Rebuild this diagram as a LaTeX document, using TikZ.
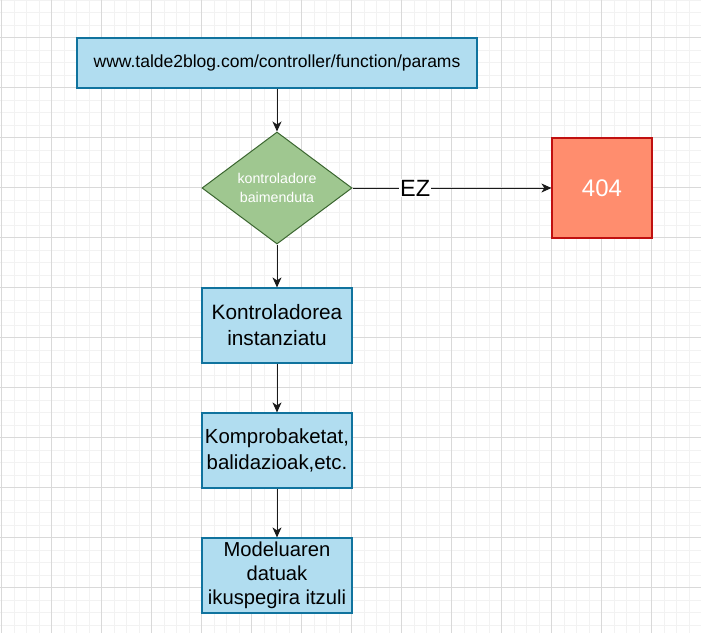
\documentclass[tikz,border=0pt]{standalone}
\usepackage{fontspec}
\setmainfont{Liberation Sans}
\usetikzlibrary{arrows.meta,shapes.geometric}
\definecolor{bluefill}{HTML}{B1DDF0}
\definecolor{bluedraw}{HTML}{10739E}
\definecolor{greenfill}{HTML}{9FC790}
\definecolor{greendraw}{HTML}{3B6630}
\definecolor{redfill}{HTML}{FF8D6E}
\definecolor{reddraw}{HTML}{C01010}
\definecolor{gridmajor}{HTML}{D9D9D9}
\definecolor{gridminor}{HTML}{F2F2F2}
\definecolor{linecol}{HTML}{1A1A1A}
\tikzset{
  bluebox/.style={draw=bluedraw, fill=bluefill, line width=1.2pt, inner sep=0pt, align=center},
  decision/.style={diamond, draw=greendraw, fill=greenfill, line width=1pt, inner sep=0pt, aspect=1.34, minimum width=150pt, minimum height=112pt, text=white, align=center},
  errbox/.style={draw=reddraw, fill=redfill, line width=1.2pt, minimum width=100pt, minimum height=100pt, text=white},
  flow/.style={draw=linecol, line width=1pt, -{Stealth[length=10pt,width=9pt,inset=3pt]}},
}
\begin{document}
\begin{tikzpicture}[x=1pt,y=-1pt]
\useasboundingbox (0,0) rectangle (701,633);
\fill[white] (0,0) rectangle (701,633);
% minor grid
\foreach \i in {0,...,56} {
  \draw[gridminor, line width=0.8pt] ({1.5+12.5*\i},0) -- ({1.5+12.5*\i},633);
}
\foreach \j in {0,...,50} {
  \draw[gridminor, line width=0.8pt] (0,{12.5*\j}) -- (701,{12.5*\j});
}
% major grid
\foreach \i in {0,...,14} {
  \draw[gridmajor, line width=0.8pt] ({1.5+50*\i},0) -- ({1.5+50*\i},633);
}
\foreach \j in {0,...,12} {
  \draw[gridmajor, line width=0.8pt] (0,{37.5+50*\j}) -- (701,{37.5+50*\j});
}
% nodes
\node[bluebox, minimum width=400pt, minimum height=50pt, font=\fontsize{17.5}{21}\selectfont] (url) at (277,63) {www.talde2blog.com/controller/function/params};
\node[decision, font=\fontsize{14.2}{18.3}\selectfont] (dec) at (277,188) {kontroladore\\baimenduta};
\node[errbox, font=\fontsize{24}{28}\selectfont] (err) at (602,188) {404};
\node[bluebox, minimum width=150pt, minimum height=75pt, font=\fontsize{20.8}{26}\selectfont] (inst) at (277,325.5) {Kontroladorea\\instanziatu};
\node[bluebox, minimum width=150pt, minimum height=75pt, font=\fontsize{20.4}{26}\selectfont] (komp) at (277,450.5) {Komprobaketat,\\balidazioak,etc.};
\node[bluebox, minimum width=150pt, minimum height=75pt, font=\fontsize{20.2}{24}\selectfont] (mod) at (277,575.5) {Modeluaren\\datuak\\ikuspegira itzuli};
% connectors
\draw[flow] (url) -- (dec);
\draw[flow] (dec) -- node[fill=white, inner sep=1pt, pos=0.315, font=\fontsize{23.5}{26}\selectfont] (ez) {EZ} (err);
\draw[flow] (dec) -- (inst);
\draw[flow] (inst) -- (komp);
\draw[flow] (komp) -- (mod);
\end{tikzpicture}
\end{document}
